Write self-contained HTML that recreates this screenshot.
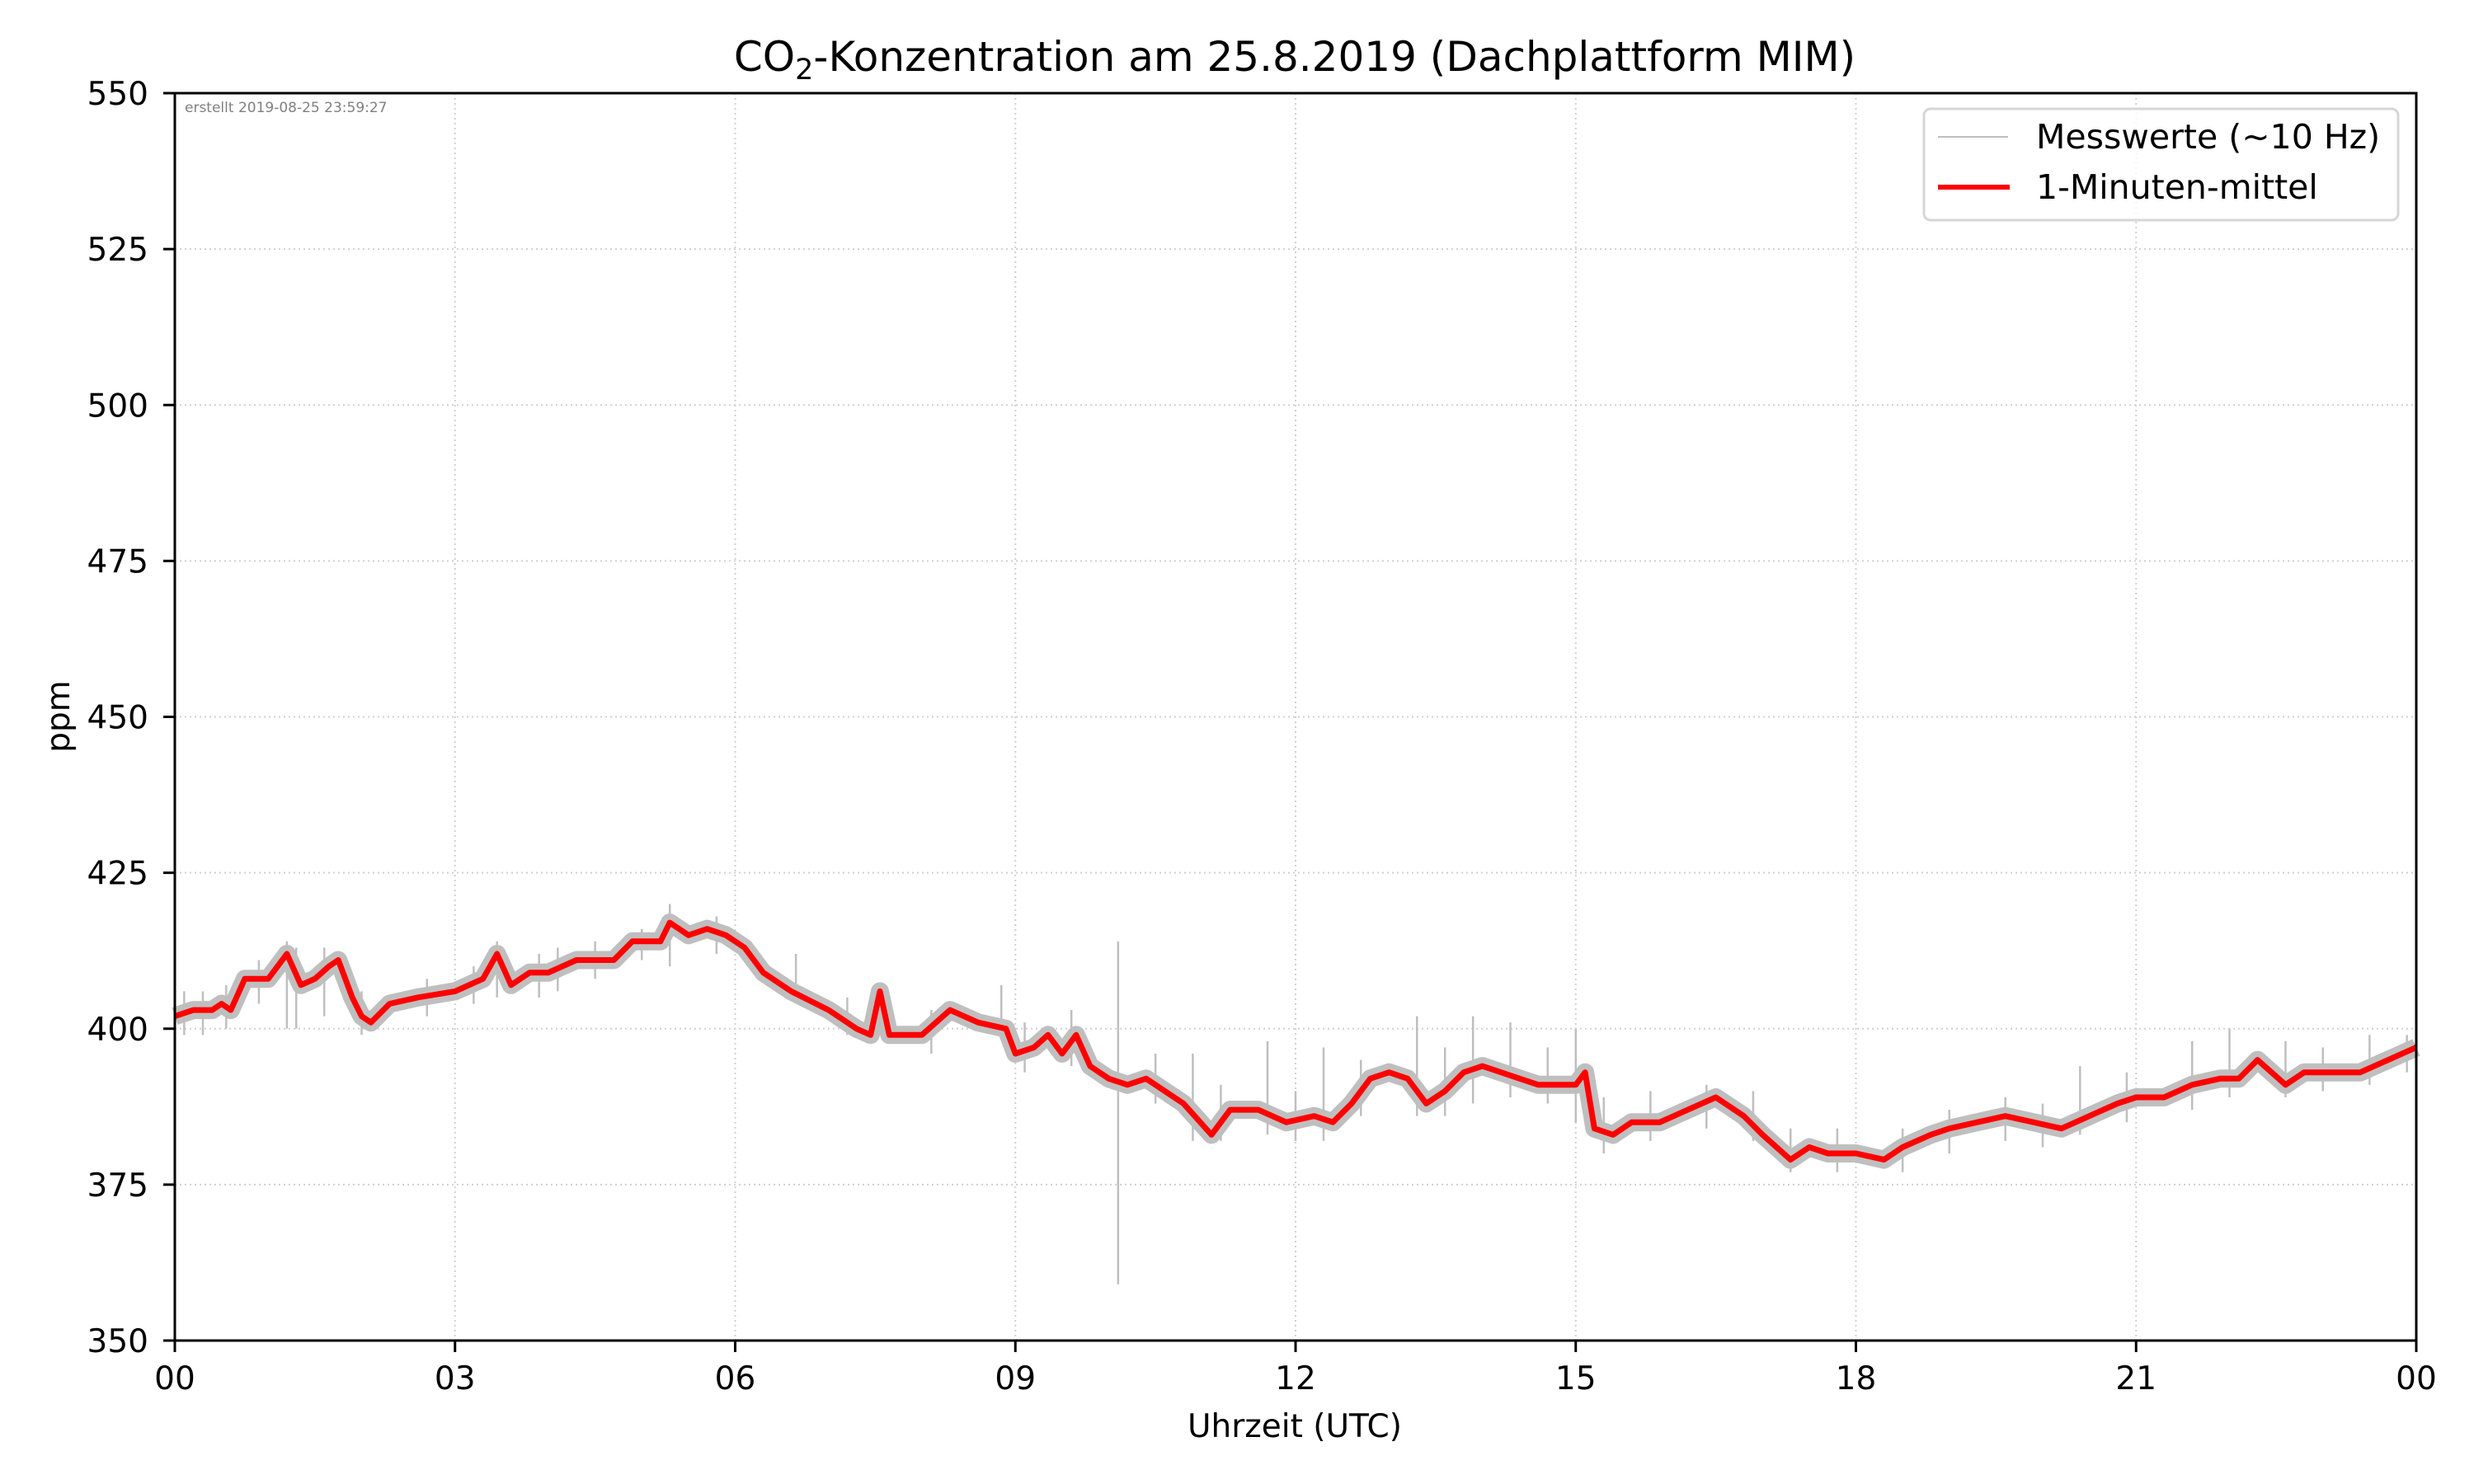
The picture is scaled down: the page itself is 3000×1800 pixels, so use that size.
<!DOCTYPE html>
<html><head><meta charset="utf-8"><style>
html,body{margin:0;padding:0;background:#fff;}
svg{display:block;font-family:"DejaVu Sans","Liberation Sans",sans-serif;}
</style></head><body>
<svg id="chart" width="3000" height="1800" viewBox="0 0 3000 1800" xmlns="http://www.w3.org/2000/svg">
<rect width="3000" height="1800" fill="#fff"/>
<text x="1570" y="86" font-size="50" text-anchor="middle">CO<tspan font-size="35" dy="10">2</tspan><tspan dy="-10">-Konzentration am 25.8.2019 (Dachplattform MIM)</tspan></text>
<g id="grid"></g>
<g id="series"></g>
<text x="224" y="136" font-size="17" fill="#808080">erstellt 2019-08-25 23:59:27</text>
<rect x="212" y="113" width="2718" height="1513" fill="none" stroke="#000" stroke-width="3"/>
<g id="axes"></g>
<text x="1570" y="1743" font-size="39" text-anchor="middle">Uhrzeit (UTC)</text>
<text x="0" y="0" font-size="39" text-anchor="middle" transform="translate(84,869) rotate(-90)">ppm</text>
<g>
<rect x="2333" y="132" width="575" height="135" rx="8" fill="#fff" fill-opacity="0.8" stroke="#d6d6d6" stroke-width="3"/>
<line x1="2350" y1="166" x2="2435" y2="166" stroke="#bfbfbf" stroke-width="2"/>
<text x="2469" y="180" font-size="41">Messwerte (~10 Hz)</text>
<line x1="2350" y1="227" x2="2437" y2="227" stroke="#f00" stroke-width="6"/>
<text x="2469" y="241" font-size="41">1-Minuten-mittel</text>
</g>
</svg>
<script>
const xTicks = [0,3,6,9,12,15,18,21,24];
const xTickLabels = ["00","03","06","09","12","15","18","21","00"];
const yTicks = [350,375,400,425,450,475,500,525,550];
const meanHours = [0,0.2,0.4,0.5,0.6,0.75,1.0,1.1,1.2,1.35,1.5,1.65,1.75,1.9,2.0,2.1,2.3,2.6,3.0,3.3,3.45,3.6,3.8,4.0,4.3,4.7,4.9,5.2,5.3,5.5,5.7,5.9,6.1,6.3,6.6,7.0,7.3,7.45,7.55,7.65,8.0,8.3,8.6,8.9,9.0,9.2,9.35,9.5,9.65,9.8,10.0,10.2,10.4,10.6,10.8,11.1,11.3,11.6,11.9,12.2,12.4,12.6,12.8,13.0,13.2,13.4,13.6,13.8,14.0,14.2,14.4,14.6,14.8,15.0,15.1,15.2,15.4,15.6,15.9,16.2,16.5,16.8,17.0,17.3,17.5,17.7,18.0,18.3,18.5,18.8,19.0,19.3,19.6,19.9,20.2,20.5,20.8,21.0,21.3,21.6,21.9,22.1,22.3,22.6,22.8,23.1,23.4,23.7,24.0];
const meanPpm = [402,403,403,404,403,408,408,410,412,407,408,410,411,405,402,401,404,405,406,408,412,407,409,409,411,411,414,414,417,415,416,415,413,409,406,403,400,399,406,399,399,403,401,400,396,397,399,396,399,394,392,391,392,390,388,383,387,387,385,386,385,388,392,393,392,388,390,393,394,393,392,391,391,391,393,384,383,385,385,387,389,386,383,379,381,380,380,379,381,383,384,385,386,385,384,386,388,389,389,391,392,392,395,391,393,393,393,395,397];
const spikeHours = [0.1,0.3,0.55,0.9,1.2,1.3,1.6,2.0,2.7,3.2,3.45,3.9,4.1,4.5,5.0,5.3,5.8,6.65,7.2,8.1,8.85,9.1,9.6,10.1,10.5,10.9,11.2,11.7,12.0,12.3,12.7,13.3,13.6,13.9,14.3,14.7,15.0,15.3,15.8,16.4,16.9,17.3,17.8,18.5,19.0,19.6,20.0,20.4,20.9,21.6,22.0,22.6,23.0,23.5,23.9];
const spikeLow = [399,399,400,404,400,400,402,399,402,404,405,405,406,408,411,410,412,405,399,396,399,393,394,359,388,382,382,383,382,382,386,386,386,388,389,388,385,380,382,384,382,377,377,377,380,382,381,383,385,387,389,389,390,391,393];
const spikeHigh = [406,406,407,411,414,413,413,406,408,410,414,412,413,414,416,420,418,412,405,403,407,401,403,414,396,396,391,398,390,397,395,402,397,402,401,397,400,389,390,391,390,384,384,384,387,389,388,394,393,398,400,398,397,399,399];

const X0=212,X1=2930,Y0=1626,Y1=113;
const sx=h=>X0+(h-0)/24*(X1-X0);
const sy=v=>Y0-(v-350)/200*(Y0-Y1);
const NS="http://www.w3.org/2000/svg";
const grid=document.getElementById('grid'),axes=document.getElementById('axes'),ser=document.getElementById('series');
function mk(tag,attrs,parent){const e=document.createElementNS(NS,tag);for(const k in attrs)e.setAttribute(k,attrs[k]);parent.appendChild(e);return e;}
xTicks.forEach((t,i)=>{
  const x=sx(t);
  const g=mk('line',{x1:x,y1:Y1,x2:x,y2:Y0,stroke:'#d0d0d0','stroke-width':2,'stroke-dasharray':'2,4'},grid);
  
  
  const tk=mk('line',{x1:x,y1:Y0,x2:x,y2:Y0+14,stroke:'#000','stroke-width':3},axes);
  
  
  const tl=mk('text',{x:x,y:1685,'font-size':39,'text-anchor':'middle'},axes);
  tl.textContent=xTickLabels[i];
  
  
});
yTicks.forEach(t=>{
  const y=sy(t);
  const g=mk('line',{x1:X0,y1:y,x2:X1,y2:y,stroke:'#d0d0d0','stroke-width':2,'stroke-dasharray':'2,4'},grid);
  
  
  const tk=mk('line',{x1:X0-14,y1:y,x2:X0,y2:y,stroke:'#000','stroke-width':3},axes);
  
  
  const tl=mk('text',{x:X0-32,y:y+14,'font-size':39,'text-anchor':'end'},axes);
  tl.textContent=String(t);
  
  
});
const pts=meanHours.map((h,i)=>sx(h).toFixed(1)+','+sy(meanPpm[i]).toFixed(1)).join(' ');
const band=mk('polyline',{points:pts,fill:'none',stroke:'#bfbfbf','stroke-width':22,'stroke-linejoin':'round'},ser);


spikeHours.forEach((h,i)=>{
  const s=mk('line',{x1:sx(h),y1:sy(spikeLow[i]),x2:sx(h),y2:sy(spikeHigh[i]),stroke:'#bfbfbf','stroke-width':2.5},ser);
  
  
});
const line=mk('polyline',{points:pts,fill:'none',stroke:'#ff0000','stroke-width':7,'stroke-linejoin':'round'},ser);


</script>
</body></html>
